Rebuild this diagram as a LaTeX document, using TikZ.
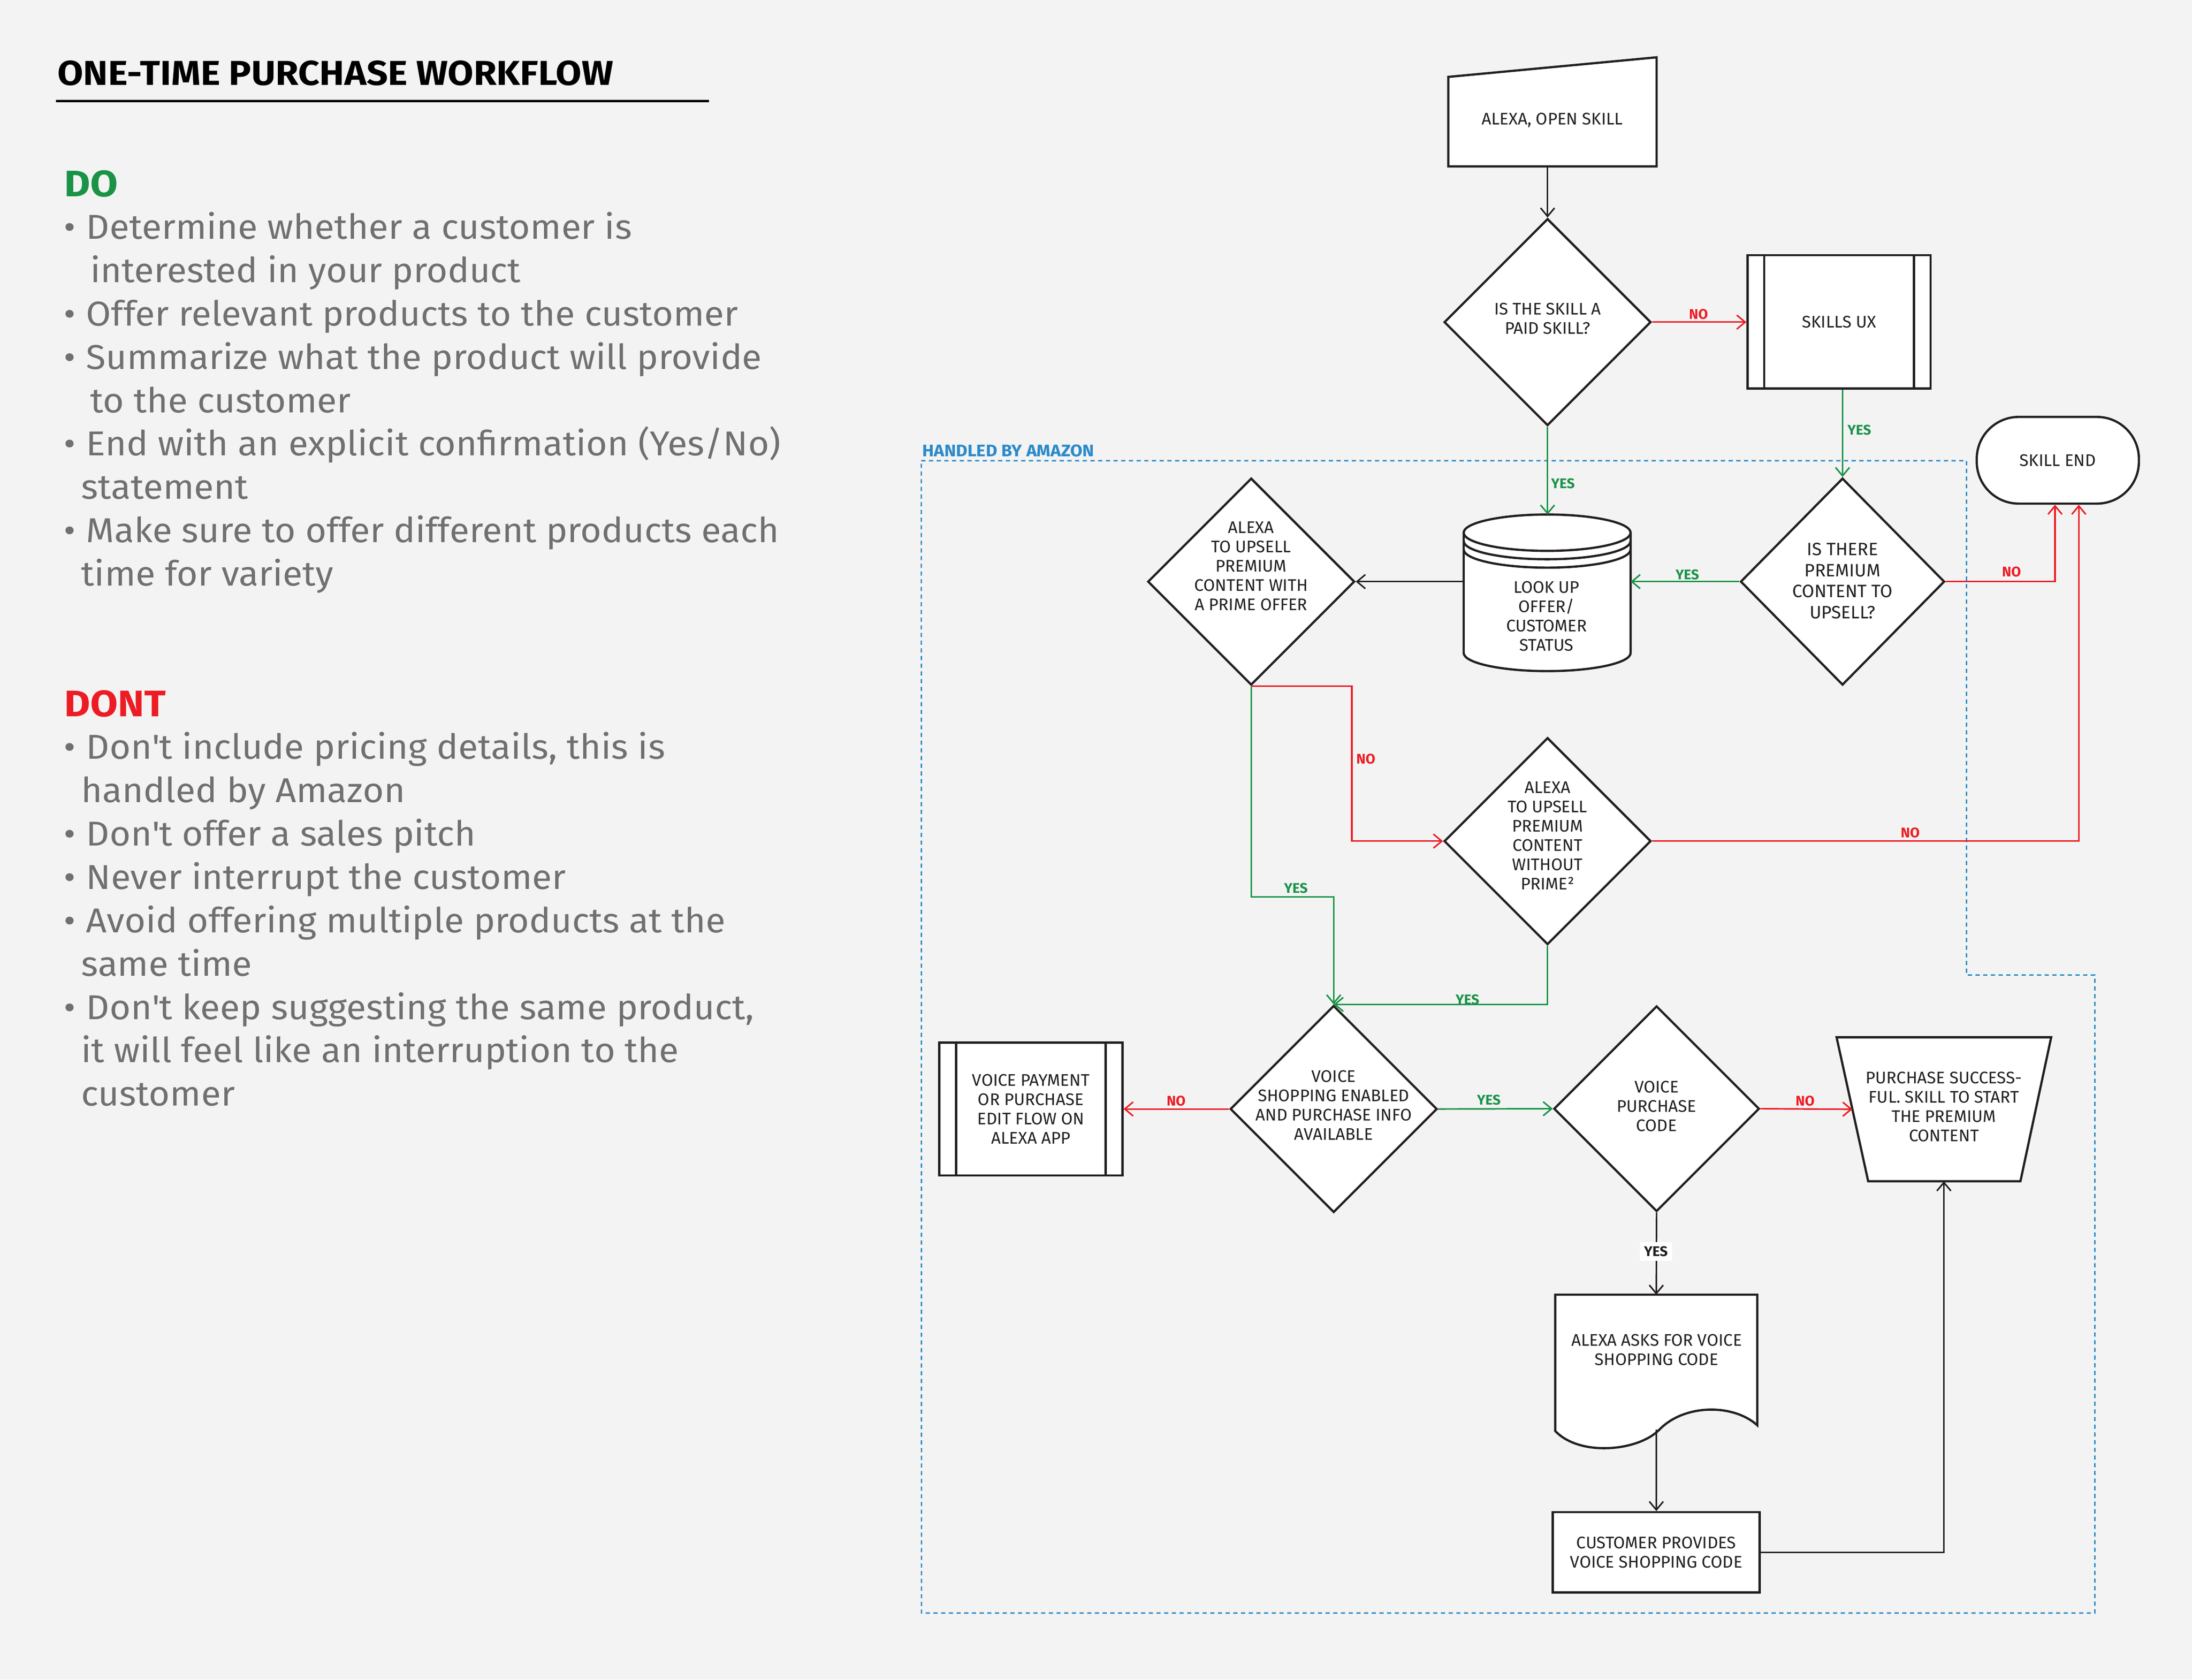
\documentclass[tikz,border=0pt]{standalone}
\usepackage{fontspec}
\setmainfont{Fira Sans}
\newfontfamily\bodyfont[FakeStretch=1.05]{Fira Sans}
\newfontfamily\titlefont[FakeStretch=1.08]{Fira Sans}
\usetikzlibrary{arrows.meta,shapes.geometric,calc}
\definecolor{bg}{HTML}{F3F3F3}
\definecolor{okgreen}{HTML}{1A9347}
\definecolor{nored}{HTML}{ED1C24}
\definecolor{ink}{HTML}{231F20}
\definecolor{bodygray}{HTML}{707070}
\definecolor{amzblue}{HTML}{2B8ACB}
\tikzset{
  shapeline/.style={draw=ink, line width=1.6pt, fill=white},
  boxtext/.style={font=\fontsize{12}{13.8}\selectfont, align=center, text=ink, inner sep=0pt},
  dmd/.style={diamond, shapeline, minimum width=148pt, minimum height=148pt, inner sep=0pt},
  frame/.style={inner sep=0pt, outer sep=0pt, draw=none},
  pbox/.style={rectangle, shapeline, boxtext, inner sep=0pt, path picture={
     \draw[ink, line width=1.6pt] ([xshift=12pt]path picture bounding box.north west) -- ([xshift=12pt]path picture bounding box.south west);
     \draw[ink, line width=1.6pt] ([xshift=-12pt]path picture bounding box.north east) -- ([xshift=-12pt]path picture bounding box.south east);}},
  plainbox/.style={rectangle, shapeline, boxtext},
  conn/.style={line width=1.1pt, -{Straight Barb[length=6pt, width=10pt, line width=1.1pt]}},
  yesc/.style={conn, draw=okgreen},
  noc/.style={conn, draw=nored},
  inkc/.style={conn, draw=ink},
  lbl/.style={font=\fontsize{10}{10}\selectfont\bfseries, inner sep=0pt},
  yeslbl/.style={lbl, text=okgreen},
  nolbl/.style={lbl, text=nored},
  codelbl/.style={lbl, text=ink, fill=white, inner xsep=3pt, inner ysep=3pt},
  heading/.style={anchor=base west, inner sep=0pt, font=\titlefont\fontsize{24.7}{24.7}\selectfont\bfseries},
  subhead/.style={anchor=base west, inner sep=0pt, font=\titlefont\fontsize{26.4}{26.4}\selectfont\bfseries},
  body/.style={anchor=base west, inner sep=0pt, text=bodygray, font=\bodyfont\fontsize{24.7}{24.7}\selectfont},
  bullet/.style={anchor=base, inner sep=0pt, text=bodygray, font=\bodyfont\fontsize{24.7}{24.7}\selectfont},
}
\begin{document}
\begin{tikzpicture}[x=1pt, y=-1pt]
\useasboundingbox (0,0) rectangle (1568,1201.3);
\fill[bg] (0,0) rectangle (1568,1201.3);
% ---------- left column ----------
\node[heading, text=black] (title) at (41,61) {ONE-TIME PURCHASE WORKFLOW};
\draw[black, line width=1.5pt] (40,72.3) -- (507,72.3);
\node[subhead, text=okgreen] (do) at (46,140.5) {DO};
\node[bullet] (b1) at (50,171) {•};
\node[body] (t1) at (61.5,171) {Determine whether a customer is};
\node[body] (t2) at (64.5,202) {interested in your product};
\node[bullet] (b2) at (50,233) {•};
\node[body] (t3) at (61.5,233) {Offer relevant products to the customer};
\node[bullet] (b3) at (50,264) {•};
\node[body] (t4) at (61.5,264) {Summarize what the product will provide};
\node[body] (t5) at (64.5,295) {to the customer};
\node[bullet] (b4) at (50,326) {•};
\node[body] (t6) at (61.5,326) {End with an explicit confirmation (Yes/No)};
\node[body] (t7) at (58,357) {statement};
\node[bullet] (b5) at (50,388) {•};
\node[body] (t8) at (61.5,388) {Make sure to offer different products each};
\node[body] (t9) at (58,419) {time for variety};
\node[subhead, text=nored] (dont) at (46,512.6) {DONT};
\node[bullet] (c1) at (50,543) {•};
\node[body] (u1) at (61.5,543) {Don\textquotesingle t include pricing details, this is};
\node[body] (u2) at (58,574) {handled by Amazon};
\node[bullet] (c2) at (50,605) {•};
\node[body] (u3) at (61.5,605) {Don\textquotesingle t offer a sales pitch};
\node[bullet] (c3) at (50,636) {•};
\node[body] (u4) at (61.5,636) {Never interrupt the customer};
\node[bullet] (c4) at (50,667) {•};
\node[body] (u5) at (61.5,667) {Avoid offering multiple products at the};
\node[body] (u6) at (58,698) {same time};
\node[bullet] (c5) at (50,729) {•};
\node[body] (u7) at (61.5,729) {Don\textquotesingle t keep suggesting the same product,};
\node[body] (u8) at (58,760) {it will feel like an interruption to the};
\node[body] (u9) at (58,791) {customer};
% ---------- handled by amazon region ----------
\draw[amzblue, line width=1pt, dash pattern=on 3pt off 2.5pt] (659,329.5) -- (1406.7,329.5) -- (1406.7,697.4) -- (1498.5,697.4) -- (1498.5,1153.7) -- (659.2,1153.7) -- cycle;
\node[anchor=base west, inner sep=0pt, text=amzblue, font=\bodyfont\fontsize{12}{12}\selectfont\bfseries] (amz) at (659.5,326.7) {HANDLED BY AMAZON};
% ---------- shapes ----------
\node[frame, minimum width=149pt, minimum height=78pt] (open) at (1110.5,80) {};
\draw[shapeline] (open.south west) -- ($(open.north west)+(0,14)$) -- (open.north east) -- (open.south east) -- cycle;
\node[boxtext] (opent) at (1110.5,86) {ALEXA, OPEN SKILL};

\node[dmd] (d1) at (1107,230.4) {};
\node[boxtext] (d1t) at (1107,228) {IS THE SKILL A\\PAID SKILL?};
\node[dmd, minimum width=146pt] (d2) at (1318,416) {};
\node[boxtext, font=\fontsize{12.8}{15}\selectfont] (d2t) at (1318,415.4) {IS THERE\\PREMIUM\\CONTENT TO\\UPSELL?};
\node[dmd] (d3) at (1107,601.6) {};
\node[boxtext] (d3t) at (1107,597.8) {ALEXA\\TO UPSELL\\PREMIUM\\CONTENT\\WITHOUT\\PRIME²};
\node[dmd] (d4) at (895,416) {};
\node[boxtext] (d4t) at (895,404.8) {ALEXA\\TO UPSELL\\PREMIUM\\CONTENT WITH\\A PRIME OFFER};
\node[dmd] (d5) at (954,793.2) {};
\node[boxtext] (d5t) at (954,790.5) {VOICE\\SHOPPING ENABLED\\AND PURCHASE INFO\\AVAILABLE};
\node[dmd, minimum width=147pt, minimum height=147pt] (d6) at (1185,793) {};
\node[boxtext] (d6t) at (1185,791.3) {VOICE\\PURCHASE\\CODE};

\node[pbox, minimum width=131pt, minimum height=95.5pt] (ux) at (1315.5,230.2) {SKILLS UX};
\node[pbox, minimum width=131pt, minimum height=95pt] (vp) at (737.4,793.2) {VOICE PAYMENT\\OR PURCHASE\\EDIT FLOW ON\\ALEXA APP};
\node[plainbox, minimum width=148pt, minimum height=57.4pt] (cust) at (1184.8,1110.3) {CUSTOMER PROVIDES\\VOICE SHOPPING CODE};
\node[shapeline, boxtext, rounded corners=30pt, minimum width=116pt, minimum height=62pt] (se) at (1472,329.2) {SKILL END};

% cylinder
\node[frame, minimum width=119.4pt, minimum height=112.3pt] (cyl) at (1106.7,424.2) {};
\fill[white] (1047,381) rectangle (1166.4,467);
\fill[white] (1106.7,467) ellipse [x radius=59.7, y radius=13];
\draw[shapeline] (1106.7,381) ellipse [x radius=59.7, y radius=13];
\draw[ink, line width=1.6pt] (1047,381) -- (1047,467) arc[start angle=180, end angle=0, x radius=59.7, y radius=13] -- (1166.4,381);
\draw[ink, line width=1.6pt] (1047,387) arc[start angle=180, end angle=0, x radius=59.7, y radius=13];
\draw[ink, line width=1.6pt] (1047,393) arc[start angle=180, end angle=0, x radius=59.7, y radius=13];
\node[boxtext] (cylt) at (1106.3,440.7) {LOOK UP\\OFFER/\\CUSTOMER\\STATUS};

% trapezoid
\node[frame, minimum width=153.5pt, minimum height=103pt] (tr) at (1390.5,793.4) {};
\draw[shapeline] (tr.north west) -- (tr.north east) -- ($(tr.south east)+(-22,0)$) -- ($(tr.south west)+(22.6,0)$) -- cycle;
\coordinate (trw) at ($(tr.west)+(11.3,0)$);
\node[boxtext] (trt) at (1390.5,791.6) {PURCHASE SUCCESS-\\FUL. SKILL TO START\\THE PREMIUM\\CONTENT};

% document
\node[frame, minimum width=144.5pt, minimum height=96.5pt] (doc) at (1184.75,974.25) {};
\draw[shapeline] (doc.north west) -- (doc.north east) -- (1257,1019.4) .. controls (1240,1004) and (1205,1004) .. (1187,1022.5) .. controls (1172,1038) and (1130,1042) .. (1112.5,1023.5) -- cycle;
\node[boxtext] (doct) at (1185,965.6) {ALEXA ASKS FOR VOICE\\SHOPPING CODE};

% ---------- connectors ----------
\draw[inkc] (open.south -| d1.north) -- (d1.north);
\draw[noc] (d1.east) -- (d1.east -| ux.west);
\draw[yesc] (ux.south -| d2.north) -- (d2.north);
\draw[yesc] (d1.south) -- (d1.south |- cyl.north);
\draw[yesc] (d2.west) -- (d2.west -| cyl.east);
\draw[inkc] (cyl.west |- d4.east) -- (d4.east);
\draw[noc] (d2.east) -| ($(se.south)+(-2,0)$);
\draw[noc] (d3.east) -| ($(se.south)+(15,0)$);
\draw[noc] (d4.south) -- ++(72,0) |- (d3.west);
\coordinate (g1) at (954,641.5);
\draw[yesc] (d4.south) |- (g1) -- (d5.north);
\draw[yesc] (d3.south) |- (d5.north);
\draw[noc] (d5.west) -- (vp.east);
\draw[yesc] (d5.east) -- (d6.west);
\draw[noc] (d6.east) -- (trw);
\draw[inkc] (d6.south) -- (doc.north);
\draw[inkc] (doc.south) -- (cust.north);
\draw[inkc] (cust.east) -| (tr.south);

% ---------- labels ----------
\node[nolbl] (n1) at (1215,224.6) {NO};
\node[yeslbl] (y1) at (1330,307.7) {YES};
\node[yeslbl] (y2) at (1118,346) {YES};
\node[yeslbl] (y3) at (1207,411) {YES};
\node[nolbl] (n2) at (1438.9,408.9) {NO};
\node[nolbl] (n3) at (1366.4,595.5) {NO};
\node[nolbl] (n4) at (977,542.7) {NO};
\node[yeslbl] (y4) at (927,635.2) {YES};
\node[yeslbl] (y5) at (1049.7,715) {YES};
\node[nolbl] (n5) at (841.3,787.5) {NO};
\node[yeslbl] (y6) at (1065,786.8) {YES};
\node[nolbl] (n6) at (1291.2,787.5) {NO};
\node[codelbl] (y7) at (1184.5,895) {YES};
\end{tikzpicture}
\end{document}
